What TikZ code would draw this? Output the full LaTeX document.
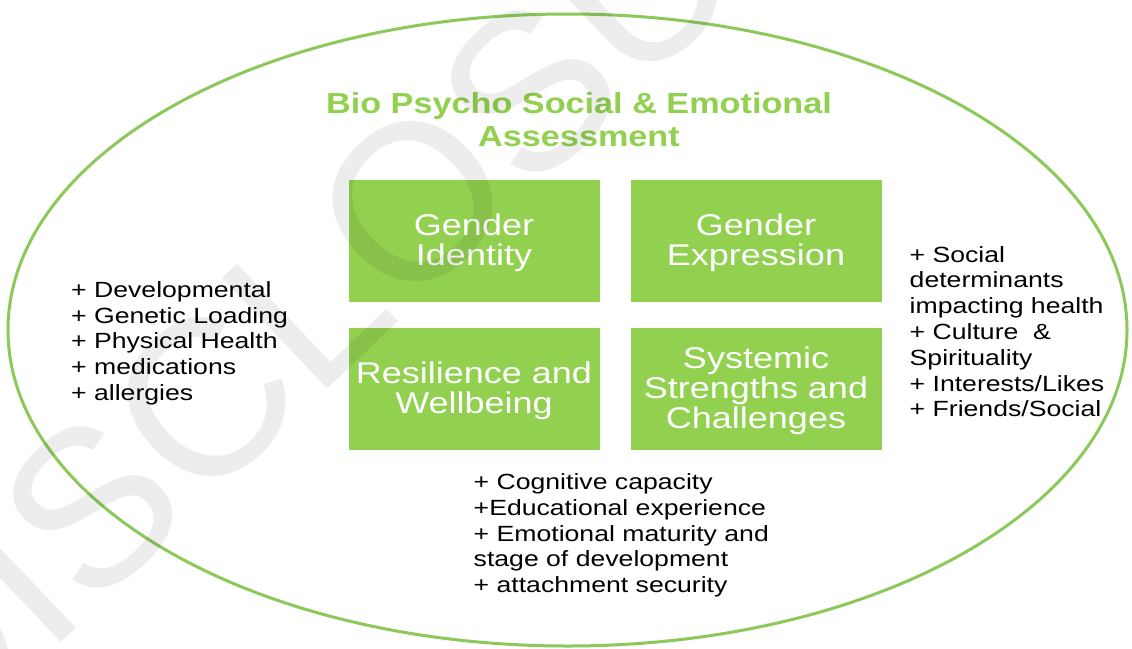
\documentclass[tikz,border=0pt]{standalone}
\usepackage{fontspec}
\setmainfont{Liberation Sans}[FakeStretch=1.21]
\newfontfamily\titlefont{Liberation Sans}[FakeStretch=1.18]
\newfontfamily\cellfont{Liberation Sans}[FakeStretch=1.2]
\newfontfamily\wmfont{Liberation Sans}
\definecolor{bpgreen}{HTML}{92D050}
\definecolor{ringgreen}{HTML}{8CC95A}
\newcommand{\firstline}{\rule{0pt}{26pt}}
\tikzset{
  cell/.style={fill=bpgreen, draw=none, minimum width=251pt, minimum height=122pt,
    inner sep=0pt, align=center, text=white, font=\cellfont\fontsize{30}{30}\selectfont},
  listtext/.style={anchor=north west, inner sep=0pt, align=left, text=black,
    font=\fontsize{22}{25.8}\selectfont},
  titletext/.style={anchor=north, inner sep=0pt, align=center, text=bpgreen,
    font=\titlefont\bfseries\fontsize{29}{32.5}\selectfont},
  watermark/.style={inner sep=0pt, text=black, text opacity=0.07,
    font=\wmfont\fontsize{222}{222}\selectfont, rotate=43.6}
}
\begin{document}
\begin{tikzpicture}[x=1pt,y=-1pt]
\useasboundingbox (0,0) rectangle (1132,648);
\fill[white] (0,0) rectangle (1132,648);
% outer ellipse
\draw[ringgreen, line width=3pt] (567.5,330) ellipse [x radius=559.5, y radius=316];
% title
\node[titletext] (title) at (579,92.5) {Bio Psycho Social \& Emotional\\Assessment};
% four cells
\node[cell] (gi) at (474,241) {\firstline Gender\\Identity};
\node[cell] (ge) at (756,241) {\firstline Gender\\Expression};
\node[cell] (rw) at (474,389) {\firstline Resilience and\\Wellbeing};
\node[cell] (ss) at (756,389) {\firstline Systemic\\Strengths and\\Challenges};
% lists
\node[listtext] (left) at (71,281.2) {+ Developmental\\+ Genetic Loading\\+ Physical Health\\+ medications\\+ allergies};
\node[listtext] (right) at (909.5,246) {+ Social\\determinants\\impacting health\\+ Culture~ \&\\Spirituality\\+ Interests/Likes\\+ Friends/Social};
\node[listtext] (bottom) at (473.5,473.3) {+ Cognitive capacity\\+Educational experience\\+ Emotional maturity and\\stage of development\\+ attachment security};
% watermark
\node[watermark] (wm) at (400,214) {DISCLOSURE};
\end{tikzpicture}
\end{document}
